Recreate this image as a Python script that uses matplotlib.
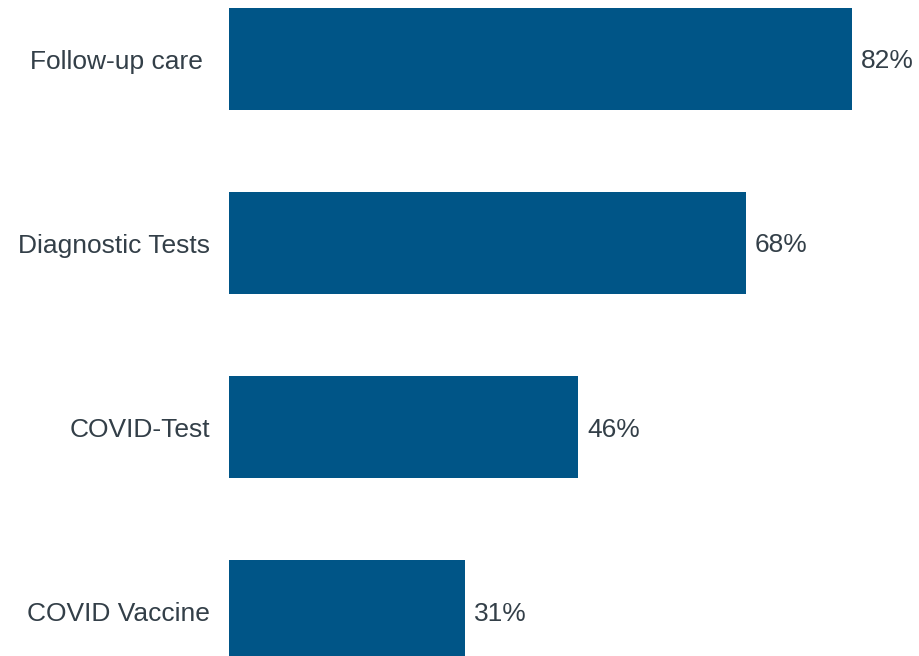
import matplotlib
matplotlib.use("Agg")
import matplotlib.pyplot as plt

# Data
categories = ["Follow-up care ", "Diagnostic Tests", "COVID-Test", "COVID Vaccine"]
values = [82, 68, 46, 31]

bar_color = "#005587"
text_color = "#333f48"

fig = plt.figure(figsize=(9.19, 6.56), dpi=100)
ax = fig.add_axes([229 / 919, 0, 690 / 919, 1])

ypos = list(range(len(categories)))
ax.barh(ypos, values, height=0.554, color=bar_color)

for y, v in zip(ypos, values):
    ax.text(v + 1.2, y, f"{v}%", va="center_baseline", ha="left",
            fontsize=19, color=text_color, family="Liberation Sans")

ax.set_yticks(ypos)
ax.set_yticklabels(categories, fontsize=19, color=text_color, family="Liberation Sans")
ax.tick_params(axis="y", length=0, pad=13.5)
ax.set_xticks([])
ax.set_xlim(0, 82 * 690 / 623)
ax.set_ylim(3 + 45 / 184, -59 / 184)
for s in ax.spines.values():
    s.set_visible(False)

fig.savefig("out.png", dpi=100)
